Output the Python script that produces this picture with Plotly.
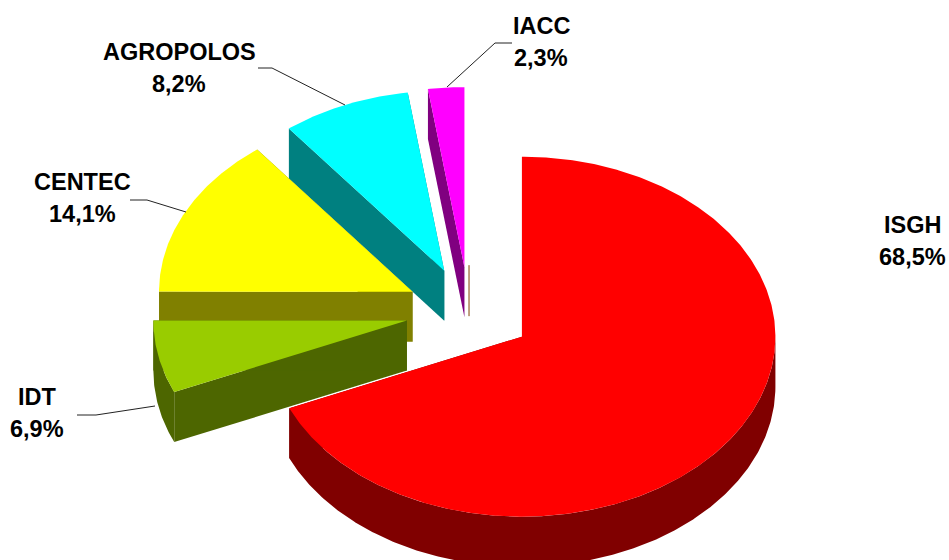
import numpy as np
import plotly.graph_objects as go

labels = ["ISGH", "IDT", "CENTEC", "AGROPOLOS", "IACC"]
shares = [68.5, 6.9, 14.1, 8.2, 2.3]
top_colors = ["#FF0000", "#99CC00", "#FFFF00", "#00FFFF", "#FF00FF"]
side_colors = ["#800000", "#4D6600", "#808000", "#008080", "#800080"]
draw_order = ["AGROPOLOS", "IACC", "CENTEC", "IDT", "ISGH"]

# label centre positions (pixels of the 949x560 page)
label_x = [912, 37, 82, 179, 541]
label_y = [241, 413, 198, 68, 42]
# leader lines
leader_x = [None, [77, 96, 155], [130, 147, 186], [258, 272, 345], [512, 495, 447]]
leader_y = [None, [415, 415, 406], [200, 200, 212], [68, 68, 105], [43, 43, 87]]

CX, CY, RX, RY, DEPTH, EXPLODE = 469, 312, 253.5, 180, 50, 63.3
LINE_GAP = 15.7


def view_angle(a):
    # the 3D view flattens angles slightly near the left of the pie
    return a - 1.4 * np.exp(-((a - 271.4) / 12) ** 2)


def arc(a0, a1, ax, ay):
    t = np.radians(np.linspace(a0, a1, max(2, int(abs(a1 - a0) * 2) + 1)))
    return ax + RX * np.sin(t), ay - RY * np.cos(t)


def poly(fig, x, y, color):
    fig.add_trace(go.Scatter(x=list(x), y=list(y), mode="lines", fill="toself",
                             fillcolor=color, line=dict(width=0, color=color),
                             hoverinfo="skip", showlegend=False))


fig = go.Figure()

edges = np.concatenate([[0], np.cumsum(shares)]) * 3.6 / (sum(shares) / 100)
for name in draw_order:
    i = labels.index(name)
    a0, a1 = view_angle(edges[i]), view_angle(edges[i + 1])
    mid = np.radians((edges[i] + edges[i + 1]) / 2)
    ax = CX + EXPLODE * np.sin(mid)
    ay = CY - EXPLODE * (RY / RX) * np.cos(mid)
    side, top = side_colors[i], top_colors[i]
    # cut faces
    for a in (a0, a1):
        ex, ey = arc(a, a, ax, ay)
        ex, ey = ex[0], ey[0]
        poly(fig, [ax, ex, ex, ax, ax], [ay, ey, ey + DEPTH, ay + DEPTH, ay], side)
    # outer wall (front half of the rim)
    w0, w1 = max(a0, 90), min(a1, 270)
    if w1 > w0:
        wx, wy = arc(w0, w1, ax, ay)
        poly(fig, np.r_[wx, wx[::-1], wx[0]], np.r_[wy, wy[::-1] + DEPTH, wy[0]], side)
    # top face
    tx, ty = arc(a0, a1, ax, ay)
    poly(fig, np.r_[ax, tx, ax], np.r_[ay, ty, ay], top)
    if name == "IACC":
        fig.add_trace(go.Scatter(x=[ax + 4.6, ax + 4.6], y=[ay - 2, ay + DEPTH - 1], mode="lines",
                                 line=dict(color="#804000", width=1), hoverinfo="skip", showlegend=False))

for i, name in enumerate(labels):
    if leader_x[i]:
        fig.add_trace(go.Scatter(x=leader_x[i], y=leader_y[i], mode="lines",
                                 line=dict(color="#222222", width=1), hoverinfo="skip", showlegend=False))
    txt = f"{shares[i]:.1f}%".replace(".", ",")
    for line, dy in ((name, -LINE_GAP), (txt, LINE_GAP)):
        fig.add_annotation(x=label_x[i], y=label_y[i] + dy, xref="x", yref="y", showarrow=False,
                           text=f"<b>{line}</b>", align="center",
                           xanchor="center", yanchor="middle",
                           font=dict(family="Liberation Sans", size=23.5, color="#000000"))

fig.update_layout(width=949, height=560, margin=dict(l=0, r=0, t=0, b=0),
                  paper_bgcolor="white", plot_bgcolor="white", showlegend=False)
fig.update_xaxes(range=[0, 949], visible=False, fixedrange=True)
fig.update_yaxes(range=[560, 0], visible=False, fixedrange=True)
fig.write_html("out.html", config={"displayModeBar": False, "responsive": False},
               default_width=949, default_height=560,
               post_script="document.body.style.margin='0';document.documentElement.style.overflow='hidden';")
